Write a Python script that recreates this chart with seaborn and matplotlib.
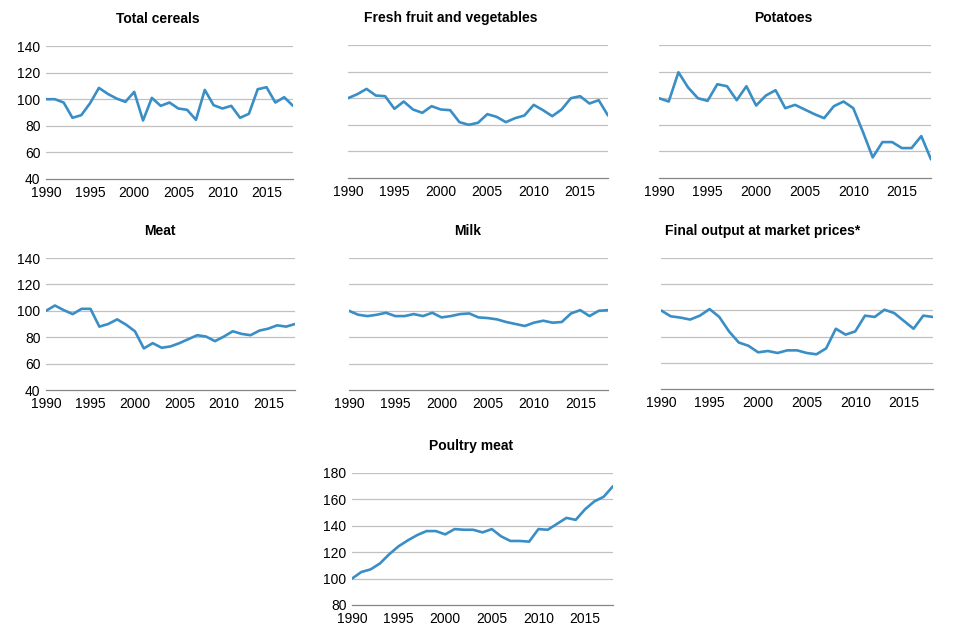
import matplotlib
matplotlib.use("Agg")
import matplotlib.pyplot as plt
import seaborn as sns
import pandas as pd

years = list(range(1990, 2019))

total_cereals = [100, 100, 97.5, 86, 88, 97, 108.5, 104, 100.5, 98, 105.5, 84, 101, 95, 97.5,
                 93, 92, 84.5, 107, 95.5, 93, 95, 86, 89, 107.5, 109, 97.5, 101.5, 95]
fruit_veg = [100, 103, 107, 102, 101.5, 92, 97.5, 91.5, 89, 94, 91.5, 91, 82, 80, 81.5,
             88, 86, 82, 85, 87, 95, 91, 86.5, 91.5, 100, 101.5, 96, 98.5, 87]
potatoes = [100, 97.5, 119.5, 108, 100, 98, 110.5, 109, 98.5, 109, 94.5, 102, 106, 92.5, 95,
            91.5, 88, 85, 94, 97.5, 92.5, 74.5, 55.5, 67, 67, 62.5, 62.5, 71.5, 54]
meat = [100, 104, 100.5, 97.5, 101.5, 101.5, 88, 90, 93.5, 89.5, 84.5, 71.5, 75.5, 72, 73,
        75.5, 78.5, 81.5, 80.5, 77, 80.5, 84.5, 82.5, 81.5, 85, 86.5, 89, 88, 90]
milk = [100, 97, 96, 97, 98.5, 96, 96, 97.5, 96, 98.5, 95, 96, 97.5, 98, 95,
        94.5, 93.5, 91.5, 90, 88.5, 91, 92.5, 91, 91.5, 98, 100.5, 96, 100, 100.5]
final_output = [100, 95.5, 94.5, 93, 96, 101, 95, 84, 75.5, 73, 68, 69, 67.5, 69.5, 69.5,
                67.5, 66.5, 71, 86, 81.5, 84, 96, 95, 100.5, 98, 92, 86, 96, 95]
poultry = [100, 105, 107, 111.5, 118.5, 124.5, 129, 133, 136, 136, 133.5, 137.5, 137, 137, 135,
           137.5, 132, 128.5, 128.5, 128, 137.5, 137, 141.5, 146, 144.5, 152.5, 158.5, 162, 170]

sns.set_theme(style="white")
plt.rcParams["font.family"] = ["Liberation Sans", "DejaVu Sans"]

W, H = 960, 640
fig = plt.figure(figsize=(9.6, 6.4), dpi=100)

# (title, values, left, right, top, bottom, title centre x, y range, show y labels)
panels = [
    ("Total cereals", total_cereals, 46, 293, 46, 179, 158, (40, 140), True),
    ("Fresh fruit and vegetables", fruit_veg, 348, 608, 45, 178, 451, (40, 140), False),
    ("Potatoes", potatoes, 659, 931, 45, 178, 783, (40, 140), False),
    ("Meat", meat, 46, 295, 258, 390, 160, (40, 140), True),
    ("Milk", milk, 349, 608, 258, 390, 468, (40, 140), False),
    ("Final output at market prices*", final_output, 661, 933, 258, 389, 763, (40, 140), False),
    ("Poultry meat", poultry, 352, 613, 473, 605, 471, (80, 180), True),
]

line_col = "#3A8EC6"
grid_col = "#C0C0C0"

for title, vals, x0, x1, y0, y1, tx, (lo, hi), show_y in panels:
    ax = fig.add_axes([x0 / W, 1 - y1 / H, (x1 - x0) / W, (y1 - y0) / H])
    df = pd.DataFrame({"year": years, "value": vals})
    sns.lineplot(data=df, x="year", y="value", ax=ax, color=line_col, linewidth=1.9)
    ax.set_xlim(1990, 2018)
    ax.set_ylim(lo, hi)
    ax.set_xticks(range(1990, 2019, 5))
    ax.set_yticks(range(lo, hi + 1, 20))
    ax.set_xlabel("")
    ax.set_ylabel("")
    for v in range(lo + 20, hi + 1, 20):
        ax.axhline(v, color=grid_col, linewidth=0.9, zorder=0)
    for s in ["top", "right", "left"]:
        ax.spines[s].set_visible(False)
    ax.spines["bottom"].set_color("#868686")
    ax.spines["bottom"].set_linewidth(0.9)
    ax.tick_params(axis="x", direction="out", length=3.5, width=0.8, color="#868686",
                   labelsize=10, pad=1.5, labelcolor="black")
    ax.tick_params(axis="y", length=0, labelsize=10, pad=4, labelcolor="black")
    if not show_y:
        ax.set_yticklabels([])
    ax.text((tx - x0) / (x1 - x0), 1 + 27 / (y1 - y0), title, transform=ax.transAxes,
            ha="center", va="center", fontsize=10, fontweight="bold", color="black")

fig.savefig("out.png", dpi=100)
